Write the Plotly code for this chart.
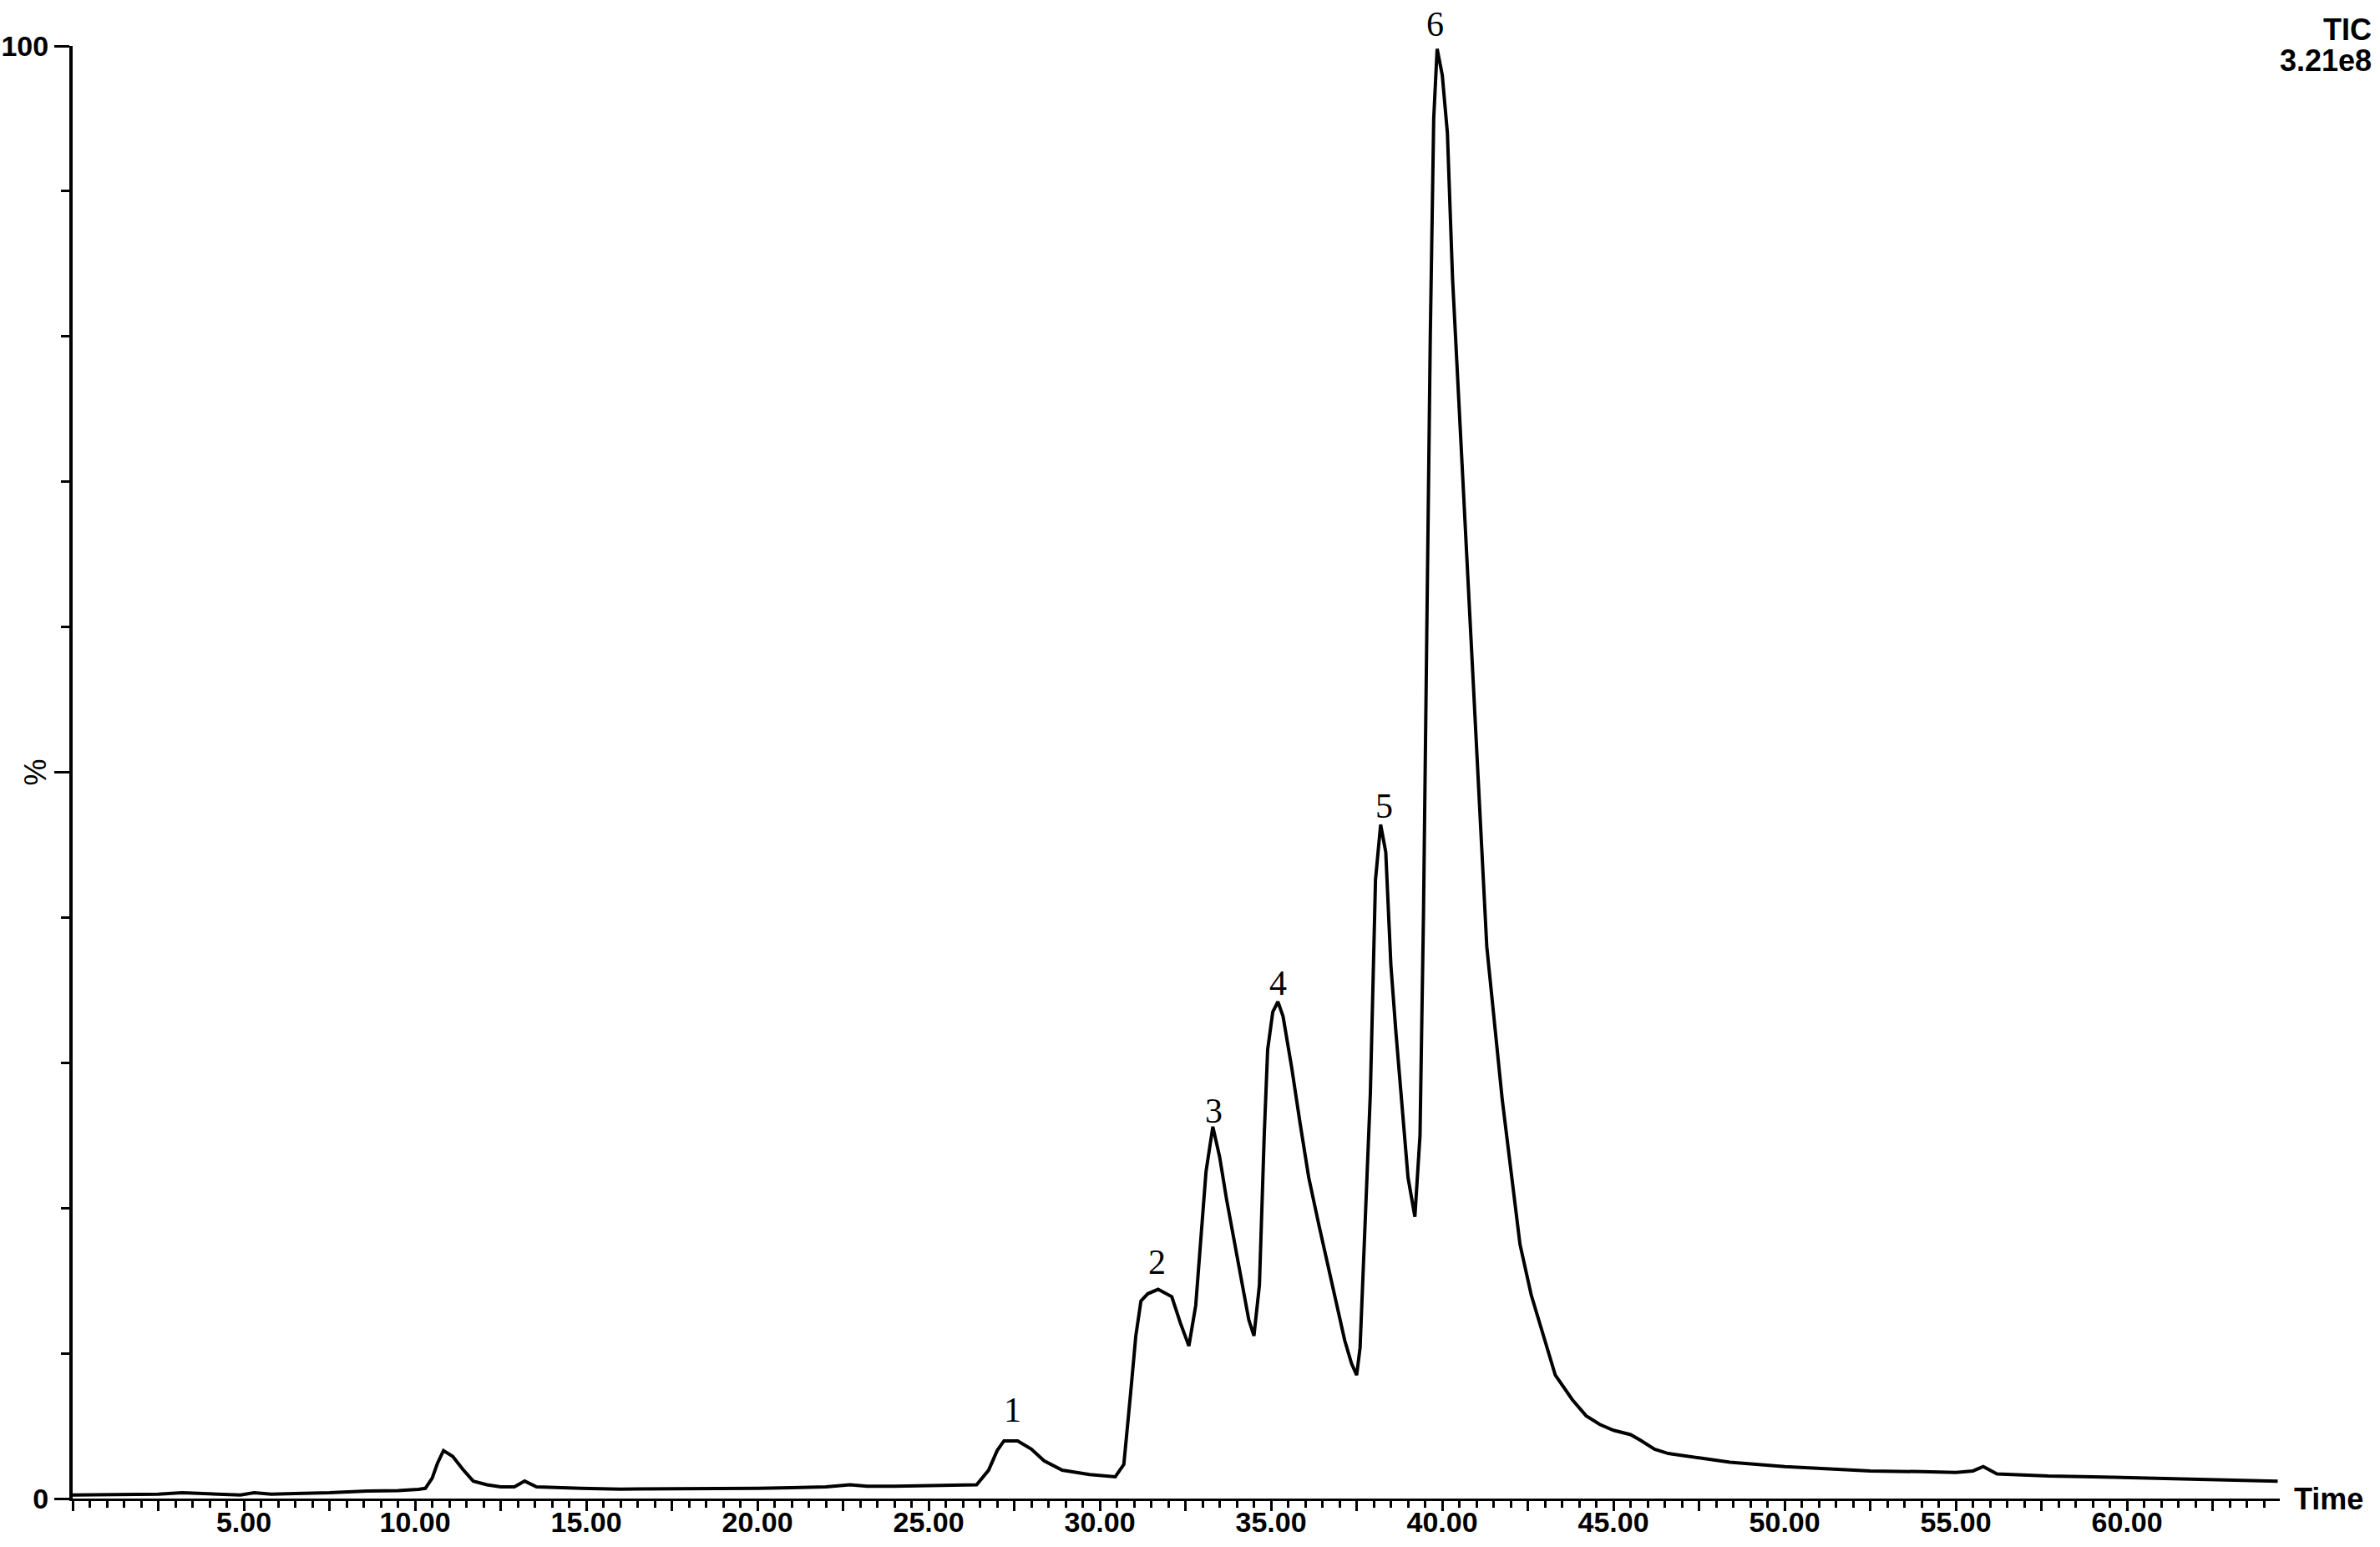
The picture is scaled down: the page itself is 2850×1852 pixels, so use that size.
import plotly.graph_objects as go

# Retention time (min) and relative abundance (%)
time_min = [0.0, 1.0, 1.5, 2.0, 2.5, 3.2, 4.0, 4.9, 5.3, 5.8, 6.5, 7.5, 8.6, 9.5, 10.1, 10.3,
            10.5, 10.65, 10.83, 11.1, 11.4, 11.7, 12.1, 12.5, 12.9, 13.2, 13.55, 14.0, 14.85,
            16.0, 17.0, 18.0, 19.0, 20.0, 21.0, 22.0, 22.7, 23.2, 24.0, 25.0, 26.0, 26.4,
            26.75, 27.0, 27.2, 27.6, 28.0, 28.37, 28.9, 29.7, 30.45, 30.7, 30.9, 31.05, 31.2,
            31.4, 31.7, 32.1, 32.35, 32.6, 32.8, 32.95, 33.1, 33.3, 33.5, 33.7, 33.95, 34.15,
            34.35, 34.5, 34.66, 34.8, 34.9, 35.05, 35.2, 35.35, 35.6, 35.85, 36.1, 36.4, 36.65,
            36.9, 37.15, 37.35, 37.5, 37.6, 37.75, 37.9, 38.05, 38.2, 38.35, 38.5, 38.65, 38.8,
            39.0, 39.2, 39.35, 39.45, 39.55, 39.65, 39.75, 39.85, 40.0, 40.15, 40.3, 40.55,
            40.8, 41.05, 41.3, 41.75, 42.27, 42.6, 42.95, 43.3, 43.8, 44.2, 44.6, 45.0, 45.5,
            45.8, 46.2, 46.6, 47.5, 48.4, 50.0, 51.5, 52.5, 54.0, 55.0, 55.5, 55.8, 56.2, 57.0,
            57.7, 59.0, 60.0, 61.5, 63.0, 64.4]
abundance = [0.25, 0.25, 0.25, 0.3, 0.3, 0.4, 0.35, 0.25, 0.4, 0.3, 0.35, 0.4, 0.52, 0.55, 0.63,
             0.7, 1.4, 2.4, 3.3, 2.9, 2.0, 1.2, 0.95, 0.8, 0.8, 1.2, 0.8, 0.75, 0.7,
             0.65, 0.65, 0.65, 0.7, 0.7, 0.75, 0.8, 0.95, 0.85, 0.85, 0.9, 0.9, 0.95,
             1.95, 3.3, 3.97, 3.97, 3.4, 2.6, 1.95, 1.65, 1.5, 2.35, 7.3, 11.2, 13.6,
             14.1, 14.4, 13.9, 12.1, 10.5, 13.3, 18.0, 22.5, 25.6, 23.5, 20.6, 17.3, 14.7,
             12.3, 11.2, 14.7, 25.0, 30.9, 33.5, 34.2, 33.2, 29.7, 25.8, 22.1, 18.8, 16.2,
             13.4, 10.9, 9.3, 8.5, 10.4, 19.1, 27.9, 42.6, 46.4, 44.5, 36.7, 32.0, 27.9,
             22.1, 19.4, 25.0, 40.0, 60.0, 80.0, 95.0, 99.8, 98.0, 94.0, 84.0, 72.5,
             60.0, 49.0, 38.0, 27.5, 17.5, 14.0, 11.2, 8.5, 6.8, 5.7, 5.1, 4.7, 4.4,
             4.0, 3.4, 3.1, 2.8, 2.5, 2.2, 2.0, 1.9, 1.85, 1.8, 1.9, 2.2, 1.7, 1.6,
             1.55, 1.5, 1.45, 1.35, 1.25, 1.2]

# Peak labels (label 6 sits above the 100 % line)
peak_names = ["1", "2", "3", "4", "5", "6"]
peak_x = [27.44, 31.66, 33.32, 35.2, 38.3, 39.8]
peak_y = [6.1, 16.3, 26.7, 35.5, 47.7, 101.5]

# Axis ticks
x_major = [i * 2.5 for i in range(26)]
x_labels = ["%.2f" % v if (v > 0 and abs(v % 5) < 1e-9) else "" for v in x_major]
y_major = [0, 50, 100]
y_labels = ["0", "", "100"]

Y_MAX = 100.0

fig = go.Figure()
fig.add_trace(go.Scatter(x=time_min, y=abundance, mode="lines",
                         line=dict(color="black", width=4), showlegend=False,
                         hoverinfo="x+y"))

tickfont = dict(family="Liberation Sans", size=34, color="black", weight="bold")

fig.update_layout(
    width=2850, height=1852,
    margin=dict(l=87, r=120, t=55, b=58, autoexpand=False),
    paper_bgcolor="white", plot_bgcolor="white",
    xaxis=dict(range=[0, 64.46], showgrid=False, zeroline=False, showline=True,
               automargin=False,
               linecolor="black", linewidth=3, ticks="outside", ticklen=12, tickwidth=3,
               tickcolor="black", tickmode="array", tickvals=x_major, ticktext=x_labels,
               tickfont=tickfont, ticklabelstandoff=-16,
               minor=dict(tickmode="linear", tick0=0, dtick=0.5, ticks="outside",
                          ticklen=8, tickwidth=3, tickcolor="black", showgrid=False)),
    yaxis=dict(range=[0, Y_MAX], showgrid=False, zeroline=False, showline=True,
               automargin=False,
               linecolor="black", linewidth=4, ticks="outside", ticklen=18, tickwidth=3,
               tickcolor="black", tickmode="array", tickvals=y_major, ticktext=y_labels,
               tickfont=tickfont,
               minor=dict(tickmode="linear", tick0=0, dtick=10, ticks="outside",
                          ticklen=10, tickwidth=3, tickcolor="black", showgrid=False)),
)

labelfont = dict(family="Liberation Serif", size=42, color="black")
for name, px, py in zip(peak_names, peak_x, peak_y):
    if py <= Y_MAX:
        fig.add_annotation(x=px, y=py, text=name, showarrow=False, xanchor="center",
                           yanchor="middle", font=labelfont)
    else:
        fig.add_annotation(x=px, xref="x", y=py / Y_MAX, yref="y domain", text=name,
                           showarrow=False, xanchor="center", yanchor="middle",
                           font=labelfont)

boldfont = dict(family="Liberation Sans", size=36, color="black", weight="bold")
fig.add_annotation(xref="paper", yref="paper", x=1.0424, y=1.0115, text="TIC",
                   showarrow=False, xanchor="right", yanchor="middle", font=boldfont)
fig.add_annotation(xref="paper", yref="paper", x=1.0424, y=0.990, text="3.21e8",
                   showarrow=False, xanchor="right", yanchor="middle", font=boldfont)
fig.add_annotation(xref="paper", yref="paper", x=1.0057, y=0, text="Time",
                   showarrow=False, xanchor="left", yanchor="middle", font=boldfont)
fig.add_annotation(xref="paper", yref="paper", x=-0.017, y=0.5, text="%",
                   showarrow=False, xanchor="center", yanchor="middle", textangle=-90,
                   font=dict(family="Liberation Sans", size=36, color="black"))

fig.write_html("out.html", config={"displayModeBar": False},
               post_script="document.body.style.margin='0px';")
